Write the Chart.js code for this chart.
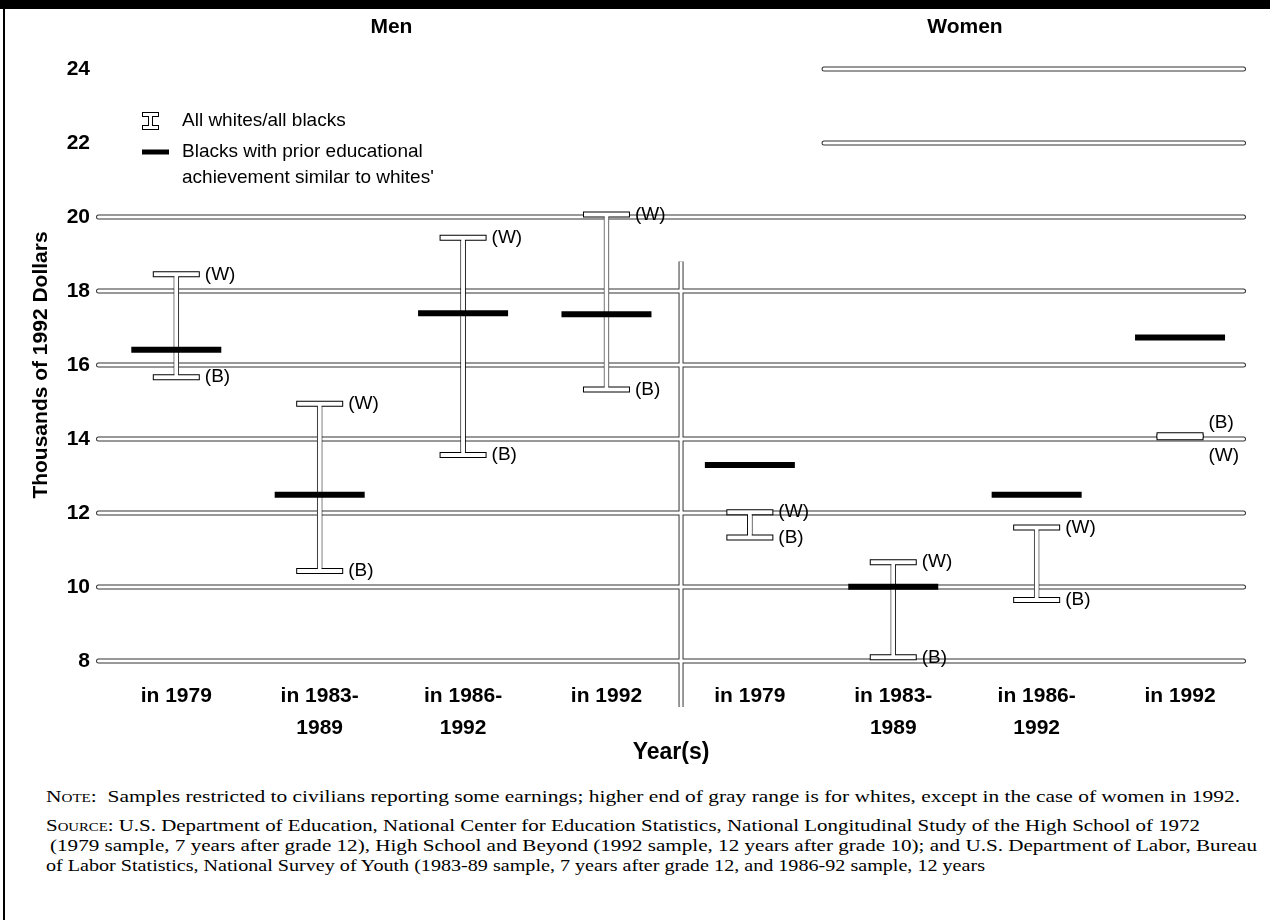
<!DOCTYPE html>
<html>
<head>
<meta charset="utf-8">
<script src="https://cdn.jsdelivr.net/npm/chart.js@4.4.1/dist/chart.umd.min.js"></script>
<style>
  html, body { margin: 0; padding: 0; background: #fff; }
  body { width: 1270px; height: 920px; position: relative; overflow: hidden; }
  #wrap { position: absolute; left: 0; top: 0; width: 1270px; height: 780px; }
  #topbar { position: absolute; left: 0; top: 0; width: 1270px; height: 9px; background: #000; }
  #leftline { position: absolute; left: 3px; top: 9px; width: 2px; height: 911px; background: #000; }
  .note { position: absolute; font-family: "Liberation Serif", "Times New Roman", serif;
          font-size: 17px; line-height: 20px; white-space: nowrap; color: #000; transform-origin: 0 50%; }
  .sc { font-variant: small-caps; }
</style>
</head>
<body>
<div id="wrap"><canvas id="c" width="1270" height="780"></canvas></div>
<div id="topbar"></div>
<div id="leftline"></div>
<div class="note" data-l="46" data-r="1240" style="top:787px"><span class="sc">Note</span>:&nbsp; Samples restricted to civilians reporting some earnings; higher end of gray range is for whites, except in the case of women in 1992.</div>
<div class="note" data-l="46" data-r="1200" style="top:816px"><span class="sc">Source</span>: U.S. Department of Education, National Center for Education Statistics, National Longitudinal Study of the High School of 1972</div>
<div class="note" data-l="50" data-r="1257" style="top:836px">(1979 sample, 7 years after grade 12), High School and Beyond (1992 sample, 12 years after grade 10); and U.S. Department of Labor, Bureau</div>
<div class="note" data-l="46" data-r="985" style="top:856px">of Labor Statistics, National Survey of Youth (1983-89 sample, 7 years after grade 12, and 1986-92 sample, 12 years</div>
<script>
// ---------------- data ----------------
const categories = ['in 1979', ['in 1983-', '1989'], ['in 1986-', '1992'], 'in 1992',
                    'in 1979', ['in 1983-', '1989'], ['in 1986-', '1992'], 'in 1992'];
const groupNames = ['Men', 'Women'];
const groupOf = [0, 0, 0, 0, 1, 1, 1, 1];
// thousands of 1992 dollars
const whites  = [18.45, 14.95, 19.44, 20.07, 12.02, 10.67, 11.61, 14.05];
const blacks  = [15.67, 10.43, 13.57, 15.34, 11.34,  8.10,  9.65, 14.10];
const similarBlacks = [16.41, 12.49, 17.40, 17.37, 13.30, 10.01, 12.49, 16.74];
const yTicks = [8, 10, 12, 14, 16, 18, 20, 22, 24];
const legendItems = ['All whites/all blacks', ['Blacks with prior educational', "achievement similar to whites'"]];
const yTitle = 'Thousands of 1992 Dollars';
const xTitle = 'Year(s)';

// ---------------- helpers ----------------
const SANS = '"Liberation Sans", Arial, sans-serif';
const DIVIDER = 3.52;        // between the two groups (x value)
const DIVIDER_TOP = 18.8;    // y value where the divider begins
const UPPER_GRID_START = 4.5;

const capPoints = categories.map((c, i) => ({ x: i, y: whites[i] }))
  .concat(categories.map((c, i) => ({ x: i, y: blacks[i] })));
const ranges = categories.map((c, i) => ({ x: i, y: [Math.min(blacks[i], whites[i]), Math.max(blacks[i], whites[i])] }));

function tube(ctx, segs) {
  [[5, '#333'], [3, '#fff']].forEach(([w, col]) => {
    ctx.lineWidth = w; ctx.strokeStyle = col;
    segs.forEach(s => {
      ctx.lineCap = s[4];
      ctx.beginPath(); ctx.moveTo(s[0], s[1]); ctx.lineTo(s[2], s[3]); ctx.stroke();
    });
  });
}

const gridPlugin = {
  id: 'tubeGrid',
  beforeDatasetsDraw(chart) {
    const { ctx, chartArea: ca, scales: { x, y } } = chart;
    const segs = [];
    yTicks.forEach(v => {
      const py = y.getPixelForValue(v);
      const x0 = v > 20 ? x.getPixelForValue(UPPER_GRID_START) : ca.left;
      segs.push([x0 + 2.5, py, ca.right - 2.5, py, 'round']);
    });
    const dx = x.getPixelForValue(DIVIDER);
    segs.push([dx, y.getPixelForValue(DIVIDER_TOP), dx, ca.bottom + 46, 'butt']);
    ctx.save();
    tube(ctx, segs);
    ctx.restore();
  }
};

const labelPlugin = {
  id: 'labels',
  afterDatasetsDraw(chart) {
    const { ctx, scales: { x, y } } = chart;
    ctx.save();
    ctx.fillStyle = '#000';
    ctx.font = '19px ' + SANS;
    ctx.textAlign = 'left';
    ctx.textBaseline = 'middle';
    categories.forEach((c, i) => {
      const px = x.getPixelForValue(i) + 23.5 + 5;
      const yw = y.getPixelForValue(whites[i]);
      const yb = y.getPixelForValue(blacks[i]);
      if (whites[i] >= blacks[i]) {
        ctx.fillText('(W)', px, yw);
        ctx.fillText('(B)', px, yb);
      } else {
        ctx.fillText('(B)', px, yb - 13);
        ctx.fillText('(W)', px, yw + 19);
      }
    });
    // group headings
    ctx.font = 'bold 21px ' + SANS;
    ctx.textAlign = 'center';
    groupNames.forEach((g, gi) => {
      const idx = groupOf.map((v, i) => v === gi ? i : null).filter(v => v !== null);
      const mid = idx.reduce((a, b) => a + b, 0) / idx.length;
      ctx.fillText(g, x.getPixelForValue(mid), 27);
    });
    // legend
    const lx = 142, ly = 121;
    ctx.lineCap = 'butt';
    ctx.strokeStyle = '#000'; ctx.lineWidth = 5;
    ctx.beginPath(); ctx.moveTo(lx + 8.5, ly - 5); ctx.lineTo(lx + 8.5, ly + 5); ctx.stroke();
    ctx.beginPath(); ctx.moveTo(lx, ly - 6.5); ctx.lineTo(lx + 17, ly - 6.5); ctx.moveTo(lx, ly + 6.5); ctx.lineTo(lx + 17, ly + 6.5); ctx.stroke();
    ctx.strokeStyle = '#fff'; ctx.lineWidth = 3;
    ctx.beginPath(); ctx.moveTo(lx + 1, ly - 6.5); ctx.lineTo(lx + 16, ly - 6.5); ctx.moveTo(lx + 1, ly + 6.5); ctx.lineTo(lx + 16, ly + 6.5); ctx.stroke();
    ctx.beginPath(); ctx.moveTo(lx + 8.5, ly - 6); ctx.lineTo(lx + 8.5, ly + 6); ctx.stroke();
    ctx.strokeStyle = '#000'; ctx.lineWidth = 5;
    ctx.beginPath(); ctx.moveTo(lx, 152); ctx.lineTo(lx + 27, 152); ctx.stroke();
    ctx.font = '19px ' + SANS;
    ctx.textAlign = 'left';
    ctx.fillText(legendItems[0], 182, ly);
    legendItems[1].forEach((t, k) => ctx.fillText(t, 182, 152 + k * 26));
    ctx.restore();
  }
};

new Chart(document.getElementById('c'), {
  type: 'bar',
  data: {
    datasets: [
      { type: 'bar', data: ranges, grouped: false, barThickness: 5, backgroundColor: '#fff',
        borderColor: '#000', borderWidth: 1, borderSkipped: false, order: 6 },
      { type: 'scatter', data: capPoints, pointStyle: 'line', pointRadius: 23.5,
        pointBorderWidth: 6, pointBorderColor: '#000', pointBackgroundColor: '#000', order: 5 },
      { type: 'scatter', data: capPoints, pointStyle: 'line', pointRadius: 22.5,
        pointBorderWidth: 4, pointBorderColor: '#fff', pointBackgroundColor: '#fff', order: 4 },
      { type: 'bar', data: ranges, grouped: false, barThickness: 3, backgroundColor: '#fff',
        borderWidth: 0, order: 3 },
      { type: 'scatter', data: categories.map((c, i) => ({ x: i, y: similarBlacks[i] })),
        pointStyle: 'line', pointRadius: 45, pointBorderWidth: 6,
        pointBorderColor: '#000', pointBackgroundColor: '#000', order: 1 }
    ]
  },
  options: {
    responsive: false,
    animation: false,
    events: [],
    layout: { autoPadding: false, padding: { left: 0, top: 69, right: 24, bottom: 0 } },
    plugins: { legend: { display: false }, tooltip: { enabled: false } },
    scales: {
      x: {
        type: 'linear', min: -0.56, max: 7.46, offset: false,
        afterBuildTicks: s => { s.ticks = categories.map((c, i) => ({ value: i })); },
        afterFit: s => { s.height = 119; s.paddingLeft = 0; s.paddingRight = 0; },
        grid: { display: false, drawTicks: false },
        border: { display: false },
        ticks: {
          autoSkip: false, maxRotation: 0, minRotation: 0, padding: 19, color: '#000',
          font: { family: SANS, size: 21, weight: 'bold', lineHeight: 1.52 },
          callback: v => categories[v]
        },
        title: { display: true, text: xTitle, color: '#000',
                 font: { family: SANS, size: 23, weight: 'bold', lineHeight: 1.2 },
                 padding: { top: 0, bottom: 14 } }
      },
      y: {
        type: 'linear', min: 8, max: 24,
        afterBuildTicks: s => { s.ticks = yTicks.map(v => ({ value: v })); },
        afterFit: s => { s.width = 96; s.paddingTop = 0; s.paddingBottom = 0; },
        grid: { display: false, drawTicks: false },
        border: { display: false },
        ticks: { padding: 6, color: '#000', font: { family: SANS, size: 21, weight: 'bold' } },
        title: { display: true, text: yTitle, color: '#000',
                 font: { family: SANS, size: 21, weight: 'bold', lineHeight: 1.2 },
                 padding: { top: 29, bottom: 0 } }
      }
    }
  },
  plugins: [gridPlugin, labelPlugin]
});

// stretch each note line to the reference's extent
document.querySelectorAll('.note').forEach(el => {
  const l = +el.dataset.l, r = +el.dataset.r;
  el.style.left = l + 'px';
  const w = el.getBoundingClientRect().width;
  el.style.transform = 'scaleX(' + ((r - l) / w) + ')';
});
</script>
</body>
</html>
